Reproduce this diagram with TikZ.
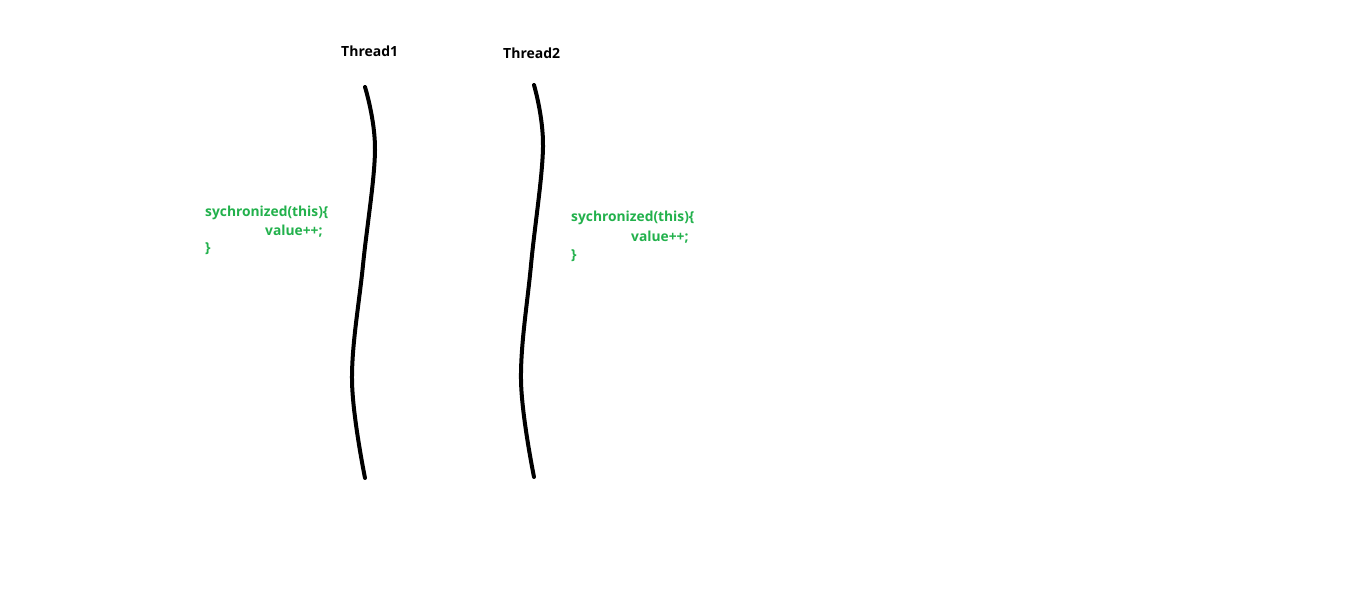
\documentclass[tikz,border=0pt]{standalone}
\usepackage{fontspec}
\setmainfont{Open Sans}
\definecolor{paintgreen}{RGB}{34,177,76}
\tikzset{
  title/.style={font=\fontsize{14}{16}\selectfont\bfseries, inner sep=0pt, anchor=west},
  code/.style={font=\fontsize{13.8}{16}\selectfont\bfseries, text=paintgreen, inner sep=0pt, anchor=west},
  thread/.style={line width=4pt, line cap=round}
}
\begin{document}
\begin{tikzpicture}[x=1pt,y=-1pt]
\useasboundingbox (0,0) rectangle (1360,590);
\fill[white] (0,0) rectangle (1360,590);
\node[title] (t1) at (341,51) {Thread1};
\node[title] (t2) at (503,53) {Thread2};
\draw[thread] plot[smooth, tension=0.6] coordinates {(365,87) (375,150) (363,265) (352,380) (365,478)};
\draw[thread] plot[smooth, tension=0.6] coordinates {(534,85) (543,147) (531,265) (521,380) (534,477)};
\node[code] (a1) at (205,213) {sychronized(this)\{};
\node[code] (a2) at (265,231) {value++;};
\node[code] (a3) at (205,249) {\}};
\node[code] (b1) at (571,218) {sychronized(this)\{};
\node[code] (b2) at (631,237) {value++;};
\node[code] (b3) at (571,256) {\}};
\end{tikzpicture}
\end{document}
